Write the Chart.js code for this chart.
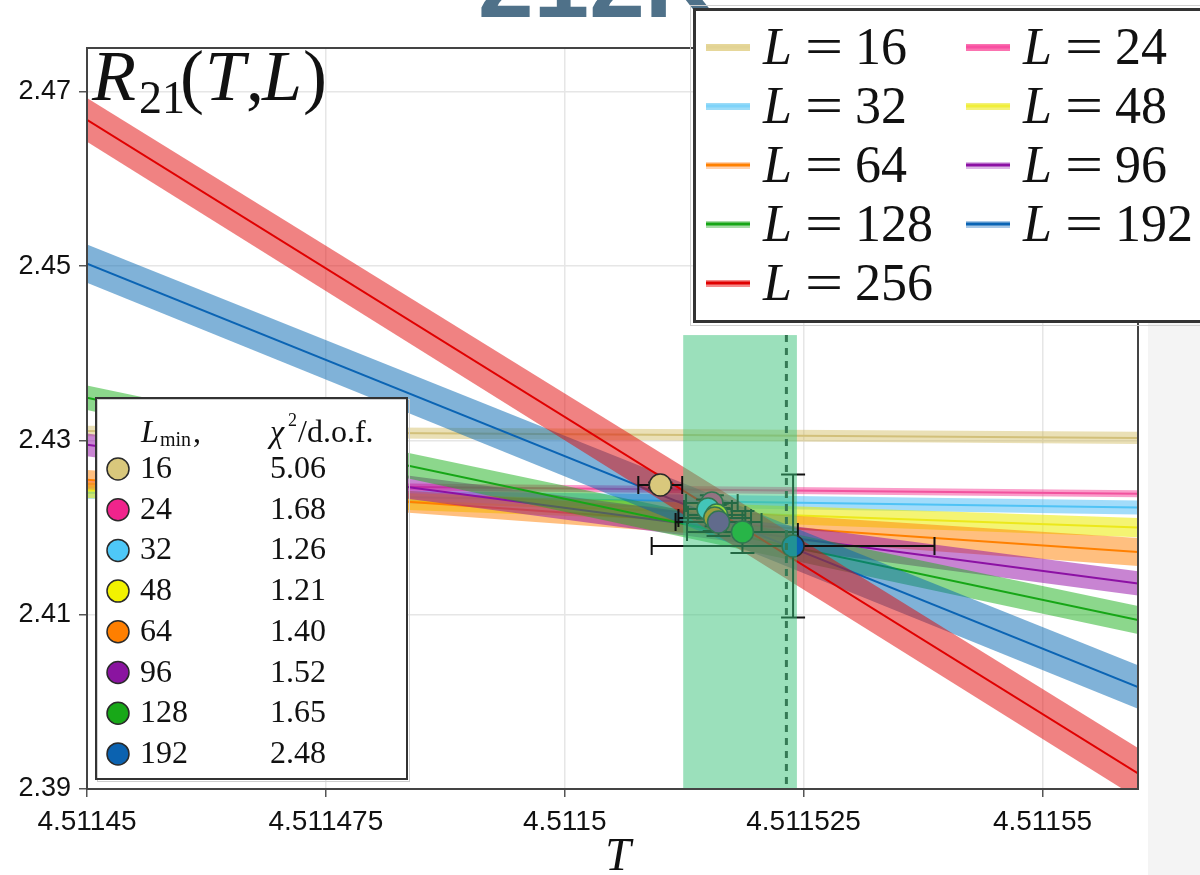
<!DOCTYPE html>
<html><head><meta charset="utf-8">
<script src="https://cdn.jsdelivr.net/npm/chart.js@4.4.1/dist/chart.umd.min.js"></script>
<style>html,body{margin:0;padding:0;background:#fff;overflow:hidden}</style>
</head><body>
<canvas id="c" width="1200" height="875"></canvas>
<script>
// ---------- data ----------
const T_MIN = 4.51145, T_MAX = 4.51156;
const R_MIN = 2.39, R_MAX = 2.47505;
const X_TICKS = [4.51145, 4.511475, 4.5115, 4.511525, 4.51155];
const X_TICK_LABELS = ['4.51145', '4.511475', '4.5115', '4.511525', '4.51155'];
const Y_TICKS = [2.39, 2.41, 2.43, 2.45, 2.47];
const Y_TICK_LABELS = ['2.39', '2.41', '2.43', '2.45', '2.47'];

const L_SIZES = [16, 24, 32, 48, 64, 96, 128, 192, 256];
const R_AT_TMIN = [2.4311, 2.4250, 2.4240, 2.4243, 2.4255, 2.4295, 2.4349, 2.4503, 2.4668];
const R_AT_TMAX = [2.4303, 2.4239, 2.4223, 2.4200, 2.4172, 2.4136, 2.4094, 2.4017, 2.3918];
const ERR_AT_TMIN = [0.0006, 0.0004, 0.0007, 0.0009, 0.0011, 0.0013, 0.0014, 0.0022, 0.0025];
const ERR_AT_TMAX = [0.0007, 0.0004, 0.0008, 0.0011, 0.0016, 0.0014, 0.0016, 0.0025, 0.0029];

const LMIN = ['16', '24', '32', '48', '64', '96', '128', '192'];
const CHI2 = ['5.06', '1.68', '1.26', '1.21', '1.40', '1.52', '1.65', '2.48'];
const CROSS_T = [4.5115100, 4.5115154, 4.5115150, 4.5115159, 4.5115157, 4.5115161, 4.5115186, 4.5115239];
const CROSS_R = [2.42489, 2.42283, 2.42214, 2.42145, 2.42110, 2.42065, 2.41950, 2.41789];
const CROSS_T_ERR = [0.0000023, 0.0000027, 0.0000025, 0.0000030, 0.0000038, 0.0000045, 0.0000058, 0.0000148];
const CROSS_R_ERR = [0.0003, 0.0009, 0.0011, 0.0013, 0.0015, 0.0016, 0.0024, 0.0082];

const TC_BAND = [4.5115124, 4.5115243];
const TC_BEST = 4.5115232;
const TC_BAND_R_TOP = 2.4421;

// ---------- styles ----------
const LINE_COLORS = ['#d2c07a', '#f2529e', '#4fc3f5', '#ece81a', '#ff8000', '#8c10a4', '#16a616', '#0a64b4', '#e00000'];
const BAND_COLORS = ['rgba(205,180,80,0.42)', 'rgba(245,60,150,0.5)', 'rgba(70,185,245,0.5)', 'rgba(235,235,0,0.55)',
  'rgba(255,128,0,0.5)', 'rgba(145,10,165,0.5)', 'rgba(25,175,25,0.5)', 'rgba(1,101,177,0.5)', 'rgba(225,5,5,0.5)'];
const SWATCH_BAND = ['#e6d79a', '#fb73b0', '#9ddcf8', '#f4f27a', '#ffd2b0', '#dcb8e6', '#a8dca8', '#a8c8e6', '#f48a8a'];
const SWATCH_LINE = ['#e2d394', '#f84fa2', '#7fd3f9', '#f0ee3a', '#ff8000', '#8c10a4', '#16a616', '#0a64b4', '#e00000'];
const MARKER_COLORS = ['#d9c87c', '#f0248c', '#4ec8f8', '#f2f200', '#ff7f00', '#8a14a0', '#18a818', '#0b62b0'];

const datasets = [];
L_SIZES.forEach((L, i) => {
  const base = 1000 - 10 * i;
  datasets.push({
    label: 'up' + L, order: base,
    data: [{x: T_MIN, y: R_AT_TMIN[i] + ERR_AT_TMIN[i]}, {x: T_MAX, y: R_AT_TMAX[i] + ERR_AT_TMAX[i]}],
    borderWidth: 0, borderColor: 'rgba(0,0,0,0)', pointRadius: 0, fill: false
  });
  datasets.push({
    label: 'lo' + L, order: base - 1,
    data: [{x: T_MIN, y: R_AT_TMIN[i] - ERR_AT_TMIN[i]}, {x: T_MAX, y: R_AT_TMAX[i] - ERR_AT_TMAX[i]}],
    borderWidth: 0, borderColor: 'rgba(0,0,0,0)', pointRadius: 0, fill: '-1', backgroundColor: BAND_COLORS[i]
  });
  datasets.push({
    label: 'L = ' + L, order: base - 2,
    data: [{x: T_MIN, y: R_AT_TMIN[i]}, {x: T_MAX, y: R_AT_TMAX[i]}],
    borderWidth: 2, borderColor: LINE_COLORS[i], pointRadius: 0, fill: false
  });
});
const POINTS_INDEX = datasets.length;
datasets.push({
  type: 'scatter', label: 'crossings', order: 0,
  data: CROSS_T.map((t, i) => ({x: t, y: CROSS_R[i]})),
  pointRadius: 11, pointBackgroundColor: MARKER_COLORS, pointBorderColor: '#2a2a2a', pointBorderWidth: 1.5,
  showLine: false
});

const SERIF = '"Liberation Serif", "DejaVu Serif", serif';
const SANS = '"Liberation Sans", Arial, sans-serif';

const decor = {
  id: 'decor',
  beforeDraw(chart) {
    const c = chart.ctx;
    c.save();
    c.fillStyle = '#ffffff'; c.fillRect(0, 0, 1200, 875);
    c.fillStyle = '#f4f4f4'; c.fillRect(1148, 322, 52, 553);
    c.fillStyle = '#4f7189';
    c.font = 'bold 100px ' + SANS;
    c.textBaseline = 'alphabetic';
    c.fillText('212K', 478, 17);
    c.restore();
  },
  beforeDatasetDraw(chart, args) {
    if (args.index !== POINTS_INDEX) return;
    const c = chart.ctx, xs = chart.scales.x, ys = chart.scales.y;
    c.save();
    c.strokeStyle = '#111'; c.lineWidth = 2;
    CROSS_T.forEach((t, i) => {
      const px = xs.getPixelForValue(t), py = ys.getPixelForValue(CROSS_R[i]);
      const x0 = xs.getPixelForValue(t - CROSS_T_ERR[i]), x1 = xs.getPixelForValue(t + CROSS_T_ERR[i]);
      const y0 = ys.getPixelForValue(CROSS_R[i] - CROSS_R_ERR[i]), y1 = ys.getPixelForValue(CROSS_R[i] + CROSS_R_ERR[i]);
      c.beginPath();
      c.moveTo(x0, py); c.lineTo(x1, py);
      c.moveTo(x0, py - 9); c.lineTo(x0, py + 9);
      c.moveTo(x1, py - 9); c.lineTo(x1, py + 9);
      c.moveTo(px, y0); c.lineTo(px, y1);
      c.moveTo(px - 12, y0); c.lineTo(px + 12, y0);
      c.moveTo(px - 12, y1); c.lineTo(px + 12, y1);
      c.stroke();
    });
    c.restore();
  },
  afterDatasetsDraw(chart) {
    const c = chart.ctx, xs = chart.scales.x, ys = chart.scales.y, a = chart.chartArea;
    c.save();
    c.beginPath(); c.rect(a.left, a.top, a.right - a.left, a.bottom - a.top); c.clip();
    const yTop = ys.getPixelForValue(TC_BAND_R_TOP);
    const xb = xs.getPixelForValue(TC_BEST);
    c.strokeStyle = '#333'; c.lineWidth = 3; c.setLineDash([7, 6]);
    c.beginPath(); c.moveTo(xb, yTop); c.lineTo(xb, a.bottom); c.stroke();
    c.setLineDash([]);
    const xl = xs.getPixelForValue(TC_BAND[0]), xr = xs.getPixelForValue(TC_BAND[1]);
    c.fillStyle = 'rgba(55,193,119,0.5)';
    c.fillRect(xl, yTop, xr - xl, a.bottom - yTop);
    c.restore();
    // frame
    c.save();
    c.strokeStyle = '#444'; c.lineWidth = 2;
    c.strokeRect(a.left, a.top, a.right - a.left, a.bottom - a.top);
    c.restore();
    // title R_21(T,L)
    c.save();
    c.fillStyle = '#111'; c.textBaseline = 'alphabetic';
    c.font = 'italic 72px ' + SERIF; c.fillText('R', 92, 100);
    c.font = '46px ' + SERIF; c.fillText('21', 139, 113);
    c.font = '72px ' + SERIF; c.fillText('(', 180, 100);
    c.font = 'italic 72px ' + SERIF; c.fillText('T', 205, 100);
    c.font = '72px ' + SERIF; c.fillText(',', 246, 100);
    c.font = 'italic 72px ' + SERIF; c.fillText('L', 262, 100);
    c.font = '72px ' + SERIF; c.fillText(')', 303, 100);
    // axis title
    c.font = 'italic 46px ' + SERIF; c.textAlign = 'center';
    c.fillText('T', 618, 870);
    c.restore();
  },
  afterDraw(chart) {
    const c = chart.ctx;
    // top-right legend
    c.save();
    c.fillStyle = '#fff'; c.fillRect(693, 8, 520, 314);
    c.strokeStyle = '#d0d0d0'; c.lineWidth = 1; c.strokeRect(690.5, 5.5, 520, 320);
    c.strokeStyle = '#333'; c.lineWidth = 3; c.strokeRect(694.5, 9.5, 520, 312);
    const rowsY = [47, 106, 165, 224, 283];
    L_SIZES.forEach((L, k) => {
      const r = Math.floor(k / 2), col = k % 2;
      const sx = col ? 966 : 706, sy = rowsY[r];
      c.fillStyle = SWATCH_BAND[k]; c.fillRect(sx, sy - 3, 44, 7);
      c.fillStyle = SWATCH_LINE[k]; c.fillRect(sx, sy - 1.5, 44, 3);
      const x0 = sx + 57, base = sy + 17;
      c.fillStyle = '#111'; c.textBaseline = 'alphabetic'; c.textAlign = 'left';
      c.font = 'italic 52px ' + SERIF; c.fillText('L', x0, base);
      c.save(); c.translate(x0 + 42, base); c.scale(1.3, 1);
      c.font = '52px ' + SERIF; c.fillText('=', 0, 0); c.restore();
      c.font = '52px ' + SERIF; c.fillText(String(L), x0 + 92, base);
    });
    c.restore();
    // lower-left table legend
    c.save();
    c.fillStyle = '#fff'; c.fillRect(95, 397, 312, 382);
    c.strokeStyle = '#cfcfcf'; c.lineWidth = 1; c.strokeRect(97.5, 399.5, 312, 382);
    c.strokeStyle = '#333'; c.lineWidth = 2; c.strokeRect(96, 398, 311, 381);
    c.fillStyle = '#111'; c.textBaseline = 'alphabetic'; c.textAlign = 'left';
    c.font = 'italic 32px ' + SERIF; c.fillText('L', 141, 442);
    c.font = '20px ' + SERIF; c.fillText('min', 160, 446);
    c.font = '32px ' + SERIF; c.fillText(',', 193, 442);
    c.font = 'italic 32px ' + SERIF; c.fillText('χ', 270, 442);
    c.font = '18px ' + SERIF; c.fillText('2', 288, 426);
    c.font = '32px ' + SERIF; c.fillText('/d.o.f.', 298, 442);
    LMIN.forEach((lm, i) => {
      const base = 478 + i * 40.7;
      c.beginPath(); c.arc(118, base - 9, 11, 0, Math.PI * 2);
      c.fillStyle = MARKER_COLORS[i]; c.fill();
      c.strokeStyle = '#2a2a2a'; c.lineWidth = 1.5; c.stroke();
      c.fillStyle = '#111';
      c.font = '32px ' + SERIF;
      c.fillText(lm, 140, base);
      c.fillText(CHI2[i], 270, base);
    });
    c.restore();
  }
};

new Chart(document.getElementById('c').getContext('2d'), {
  type: 'line',
  data: {datasets},
  options: {
    responsive: false, animation: false, devicePixelRatio: 1,
    layout: {padding: {top: 48, right: 62, left: 0, bottom: 0}},
    plugins: {legend: {display: false}, tooltip: {enabled: false}, title: {display: false},
      filler: {drawTime: 'beforeDatasetDraw'}},
    elements: {line: {tension: 0}},
    scales: {
      x: {
        type: 'linear', min: T_MIN, max: T_MAX,
        afterBuildTicks: s => { s.ticks = X_TICKS.map(v => ({value: v})); },
        afterFit: s => { s.height = 86; },
        ticks: {
          callback: (v) => { const k = X_TICKS.findIndex(t => Math.abs(t - v) < 1e-9); return k >= 0 ? X_TICK_LABELS[k] : ''; },
          font: {family: SANS, size: 28}, color: '#111', padding: 8, maxRotation: 0, autoSkip: false
        },
        grid: {color: '#e6e6e6', lineWidth: 1.5, tickLength: 8, tickColor: '#555', drawTicks: true},
        border: {display: true, color: '#444', width: 2}
      },
      y: {
        type: 'linear', min: R_MIN, max: R_MAX,
        afterBuildTicks: s => { s.ticks = Y_TICKS.map(v => ({value: v})); },
        afterFit: s => { s.width = 87; },
        ticks: {
          callback: (v) => { const k = Y_TICKS.findIndex(t => Math.abs(t - v) < 1e-9); return k >= 0 ? Y_TICK_LABELS[k] : ''; },
          font: {family: SANS, size: 27}, color: '#111', padding: 8, autoSkip: false
        },
        grid: {color: '#e6e6e6', lineWidth: 1.5, tickLength: 8, tickColor: '#555', drawTicks: true},
        border: {display: true, color: '#444', width: 2}
      }
    }
  },
  plugins: [decor]
});
</script>
</body></html>
